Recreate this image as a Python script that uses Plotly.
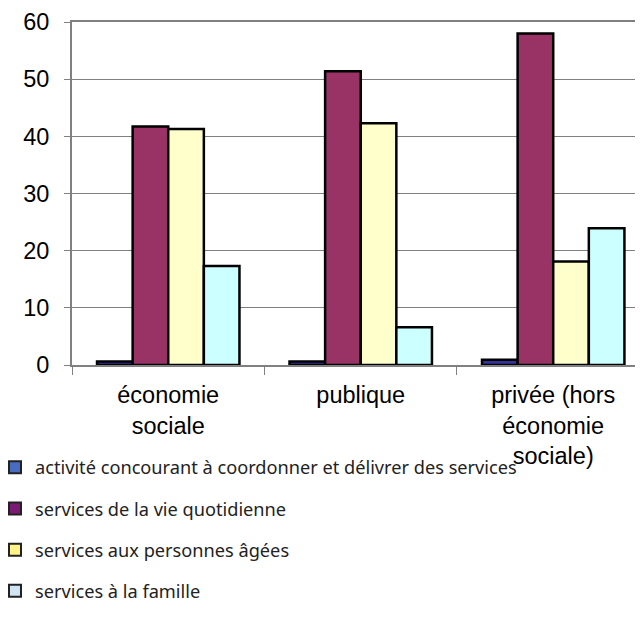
import plotly.graph_objects as go

categories = ["économie<br>sociale", "publique", "privée (hors<br>économie<br>sociale)"]
series_names = [
    "activité concourant à coordonner et délivrer des services",
    "services de la vie quotidienne",
    "services aux personnes âgées",
    "services à la famille",
]
coordination = [0.6, 0.6, 0.9]
vie_quotidienne = [41.7, 51.4, 58.0]
personnes_agees = [41.3, 42.3, 18.1]
famille = [17.3, 6.6, 23.9]

bar_colors = ["#333399", "#993366", "#FFFFCC", "#CCFFFF"]
legend_colors = ["#4A6CC0", "#7A1A72", "#FFF38A", "#D0E4F4"]

fig = go.Figure()

for name, vals, col in zip(series_names, [coordination, vie_quotidienne, personnes_agees, famille], bar_colors):
    fig.add_trace(go.Bar(
        x=categories, y=vals, name=name,
        marker=dict(color=col, line=dict(color="black", width=2.5)),
        showlegend=False
    ))

# legend entries (the legend swatches use slightly different colours)
for i, (name, col) in enumerate(zip(series_names, legend_colors)):
    fig.add_trace(go.Scatter(
        x=[None], y=[None], mode="markers", name=name, legendgroup=str(i),
        marker=dict(symbol="square", size=12, color=col, line=dict(color="#222", width=2))
    ))

# the page body has an 8px margin, so offsets are reduced by 8
fig.update_layout(
    width=643, height=626,
    margin=dict(l=64, r=0, t=14, b=269, autoexpand=False),
    barmode="group", bargap=0.26, bargroupgap=0,
    plot_bgcolor="white", paper_bgcolor="white",
    font=dict(family="Arial", size=23.5, color="black"),
    legend=dict(
        x=-0.133, xanchor="left", y=-0.245, yanchor="top",
        traceorder="grouped", tracegroupgap=14.5,
        font=dict(family="Noto Sans", size=18.2, color="#222"),
        itemwidth=30, bgcolor="rgba(0,0,0,0)",
    ),
)

fig.update_xaxes(
    range=[-0.5, 2.508],
    showline=True, linecolor="#808080", linewidth=2, mirror=True,
    ticks="outside", tickson="boundaries", ticklen=8, tickcolor="#808080",
    ticklabelstandoff=8,
)
fig.update_yaxes(
    range=[0, 60], dtick=10,
    showline=True, linecolor="#808080", linewidth=2,
    showgrid=True, gridcolor="#808080", gridwidth=1,
    ticks="outside", ticklen=6, tickcolor="#808080",
    ticklabelstandoff=10,
    zeroline=False,
)

fig.write_html("out.html")
